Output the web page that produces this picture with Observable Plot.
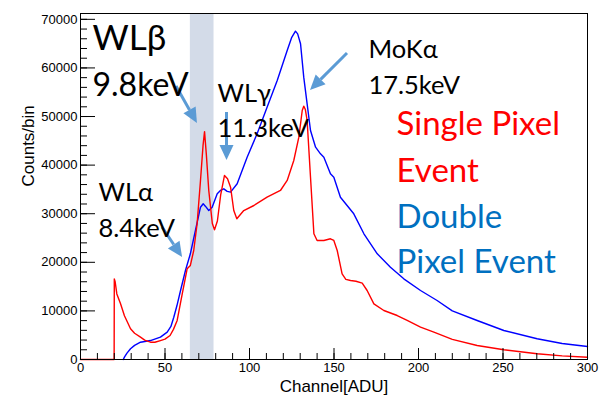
<!DOCTYPE html>
<html><head><meta charset="utf-8">
<script src="https://cdn.jsdelivr.net/npm/d3@7"></script>
<script src="https://cdn.jsdelivr.net/npm/@observablehq/plot@0.6"></script>
<style>body{margin:0;background:#fff;} #chart svg{display:block;}</style>
</head><body><div id="chart"></div>
<script>
// Single pixel event spectrum (red)
const redChannel = [0,19.9,20,20.5,21.5,23.7,26,29.6,32,35.5,38,41.4,44,47.3,50,53,55,57.2,60.2,63.1,65,67,69,71,72.5,73.4,74.5,75.9,78,79.3,81,83,85.2,87,88.8,90.7,92.5,96.6,102.6,110.4,118.3,122.3,126.2,129.2,131.2,132.1,133,134.1,136.1,138.1,140,144,147.9,149.9,151.9,154.8,157,159.8,163,166.7,169.6,173.6,179.5,187.4,193.3,201.2,209.1,220,234.7,250.5,270.2,285,300];
const redCounts  = [0,0,16600,16000,13500,11460,9000,6320,5400,4600,4000,3560,3550,3900,4200,4940,6200,8030,13520,18660,19350,22430,27930,36840,44000,46900,42000,34780,27990,26700,28500,34000,37870,37200,35460,30660,28950,30660,31690,33400,34780,36840,40950,45750,51240,52130,51500,49190,37520,25870,24490,24490,24840,24490,22430,17630,16500,16260,16100,15710,14200,11460,10080,9050,8030,6650,5620,4150,2880,2000,1170,750,470];
// Double pixel event spectrum (blue)
const blueChannel = [25.3,26,27.5,29.6,32,35.5,41.4,47.3,51.3,53.5,55.2,57,59.2,62.1,65,68,71,72.6,74,75.9,77.9,80.9,82.8,84.8,86.8,88.8,92.7,98.6,104.5,110.4,116.4,122.3,125,127.2,128.5,130.2,132.1,134.1,136.1,139.1,142,144,147.9,149.9,153.8,161.7,167.7,175.6,183.4,191.3,201.2,211,220,234.7,250.5,270.2,285,300];
const blueCounts  = [0,500,1300,2200,2900,3560,3900,4600,5620,6800,8700,11000,14200,18320,21750,26550,31340,32040,31500,30660,31340,34100,34780,35120,34600,34440,36160,41630,46450,51930,57420,63590,66300,67570,67000,64970,58100,52620,47130,43690,42330,41630,38210,37520,33400,29980,25870,21750,19000,16600,14200,12140,10000,8030,5970,4260,3300,2680];

const xMajorTicks = [0,50,100,150,200,250,300];
const xMinorTicks = d3.range(0,301,10);
const yMajorTicks = [0,10000,20000,30000,40000,50000,60000,70000];
const yMinorTicks = d3.range(0,70001,2000);
const bandRange = [65,79];

const noteText    = ["WLβ","9.8keV","WLγ","11.3keV","MoKα","17.5keV","Single Pixel","Event","Double","Pixel Event","WLα","8.4keV"];
const noteChannel = [7.1,7.1,81.1,81.1,170.4,170.4,187,187,187,187,10.65,10.65];
const noteCounts  = [66000,56430,54740,47540,63800,56390,48280,38670,29140,19880,34370,26960];
const noteGroup   = ["huge","big","mid","mid","mid","mid","single","single","double","double","mid","mid"];

const arrowFrom = [[56.8,56180],[86.7,50830],[158,62970],[48.5,27170]];
const arrowTo   = [[69.2,48570],[86.7,40950],[136.1,55360],[60.4,20990]];

const red = redChannel.map((c,i)=>({c, v: redCounts[i]}));
const blue = blueChannel.map((c,i)=>({c, v: blueCounts[i]}));
const notes = noteText.map((t,i)=>({t, c: noteChannel[i], v: noteCounts[i], g: noteGroup[i]}));
const arrows = arrowFrom.map((f,i)=>({x1:f[0],y1:f[1],x2:arrowTo[i][0],y2:arrowTo[i][1]}));

const ARROW = "#5b9bd5";
function arrowMark(data){
  return (index, scales) => {
    const g = d3.create("svg:g");
    for (const a of data){
      const x1=scales.x(a.x1), y1=scales.y(a.y1), x2=scales.x(a.x2), y2=scales.y(a.y2);
      const dx=x2-x1, dy=y2-y1, L=Math.hypot(dx,dy), ux=dx/L, uy=dy/L;
      const hl=15, hw=7;
      const bx=x2-ux*hl, by=y2-uy*hl;
      g.append("line").attr("x1",x1).attr("y1",y1).attr("x2",bx).attr("y2",by)
        .attr("stroke",ARROW).attr("stroke-width",3);
      g.append("path").attr("d",`M${x2},${y2}L${bx-uy*hw},${by+ux*hw}L${bx+uy*hw},${by-ux*hw}Z`).attr("fill",ARROW);
    }
    return g.node();
  };
}

const noteFont = "Lato, 'Open Sans', sans-serif";
const sizeOf = {huge: 35, big: 32, mid: 25.5, single: 33, double: 33};
const colorOf = {huge: "#000", big: "#000", mid: "#000", single: "#ff0000", double: "#0070c0"};

const plot = Plot.plot({
  width: 606, height: 405,
  marginLeft: 80, marginRight: 19, marginTop: 13, marginBottom: 46,
  style: {fontFamily: "'Liberation Sans', Arial, sans-serif", fontSize: "13px", color: "#000", background: "#fff"},
  x: {domain: [0,300]},
  y: {domain: [0,71200]},
  marks: [
    Plot.rect([bandRange], {x1: d=>d[0], x2: d=>d[1], fill: "#d3dbe8"}),
    Plot.line(blue, {x: "c", y: "v", stroke: "#0000ff", strokeWidth: 1.4}),
    Plot.line(red, {x: "c", y: "v", stroke: "#ff0000", strokeWidth: 1.4}),
    arrowMark(arrows),
    ...["huge","big","mid","single","double"].map(g => Plot.text(notes.filter(n=>n.g===g), {
      x: "c", y: "v", text: "t", textAnchor: "start", lineAnchor: "middle",
      fontSize: sizeOf[g], fill: colorOf[g], fontFamily: noteFont
    })),
    Plot.frame({stroke: "#000", strokeWidth: 1}),
    Plot.axisX({ticks: xMinorTicks, tickSize: -6, tickFormat: () => "", label: null}),
    Plot.axisX({ticks: xMajorTicks, tickSize: -11, tickPadding: 14, tickFormat: d => String(d), label: null, fontSize: 13}),
    Plot.axisY({ticks: yMinorTicks, tickSize: -7, tickFormat: () => "", label: null}),
    Plot.axisY({ticks: yMajorTicks, tickSize: -15, tickPadding: 18, tickFormat: d => String(d), label: null, fontSize: 13}),
    Plot.text(["Channel[ADU]"], {frameAnchor: "bottom", dy: 27, text: d=>d, fontSize: 17, lineAnchor: "middle"}),
    Plot.text(["Counts/bin"], {frameAnchor: "left", dx: -52, rotate: -90, text: d=>d, fontSize: 17, lineAnchor: "middle"})
  ]
});
document.getElementById("chart").append(plot);
</script>
</body></html>
